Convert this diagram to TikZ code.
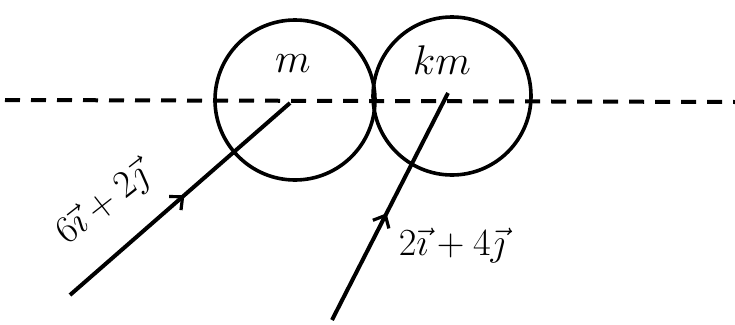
\documentclass[tikz,border=0pt]{standalone}
\usetikzlibrary{decorations.markings,arrows.meta}
\begin{document}
\begin{tikzpicture}[x=1pt,y=-1pt,
  ball/.style={circle,draw,line width=3.6pt,minimum size=160pt,inner sep=0pt},
  axisline/.style={line width=4pt,dash pattern=on 15pt off 11pt},
  velocity/.style={line width=4pt,postaction={decorate},
    decoration={markings,mark=at position #1 with {\arrow{Straight Barb[length=10pt,width=18pt,line width=3.2pt]}}}},
  lbl/.style={font=\huge,scale=1.85,inner sep=1pt},
  mass/.style={font=\huge,scale=2,inner sep=1pt}]
\useasboundingbox (0,0) rectangle (735,324);
\node[ball] (m) at (295,100) {};
\node[ball,minimum size=158pt] (km) at (452,96) {};
\node[mass] (mlabel) at (293,64) {$m$};
\node[mass] (kmlabel) at (442,60) {$km$};
\coordinate (dl) at (5,100);
\coordinate (dr) at (735,102);
\draw[axisline] (dl) -- (dr);
\coordinate (a1) at (70,295);
\coordinate (c1) at (290,103);
\coordinate (a2) at (332,320);
\coordinate (c2) at (448,93);
\draw[velocity=0.52] (a1) -- (c1);
\draw[velocity=0.47] (a2) -- (c2);
\node[lbl,rotate=38] (v1) at (103,205) {$6\vec{\imath}+2\vec{\jmath}$};
\node[lbl] (v2) at (452,246) {$2\vec{\imath}+4\vec{\jmath}$};
\end{tikzpicture}
\end{document}
